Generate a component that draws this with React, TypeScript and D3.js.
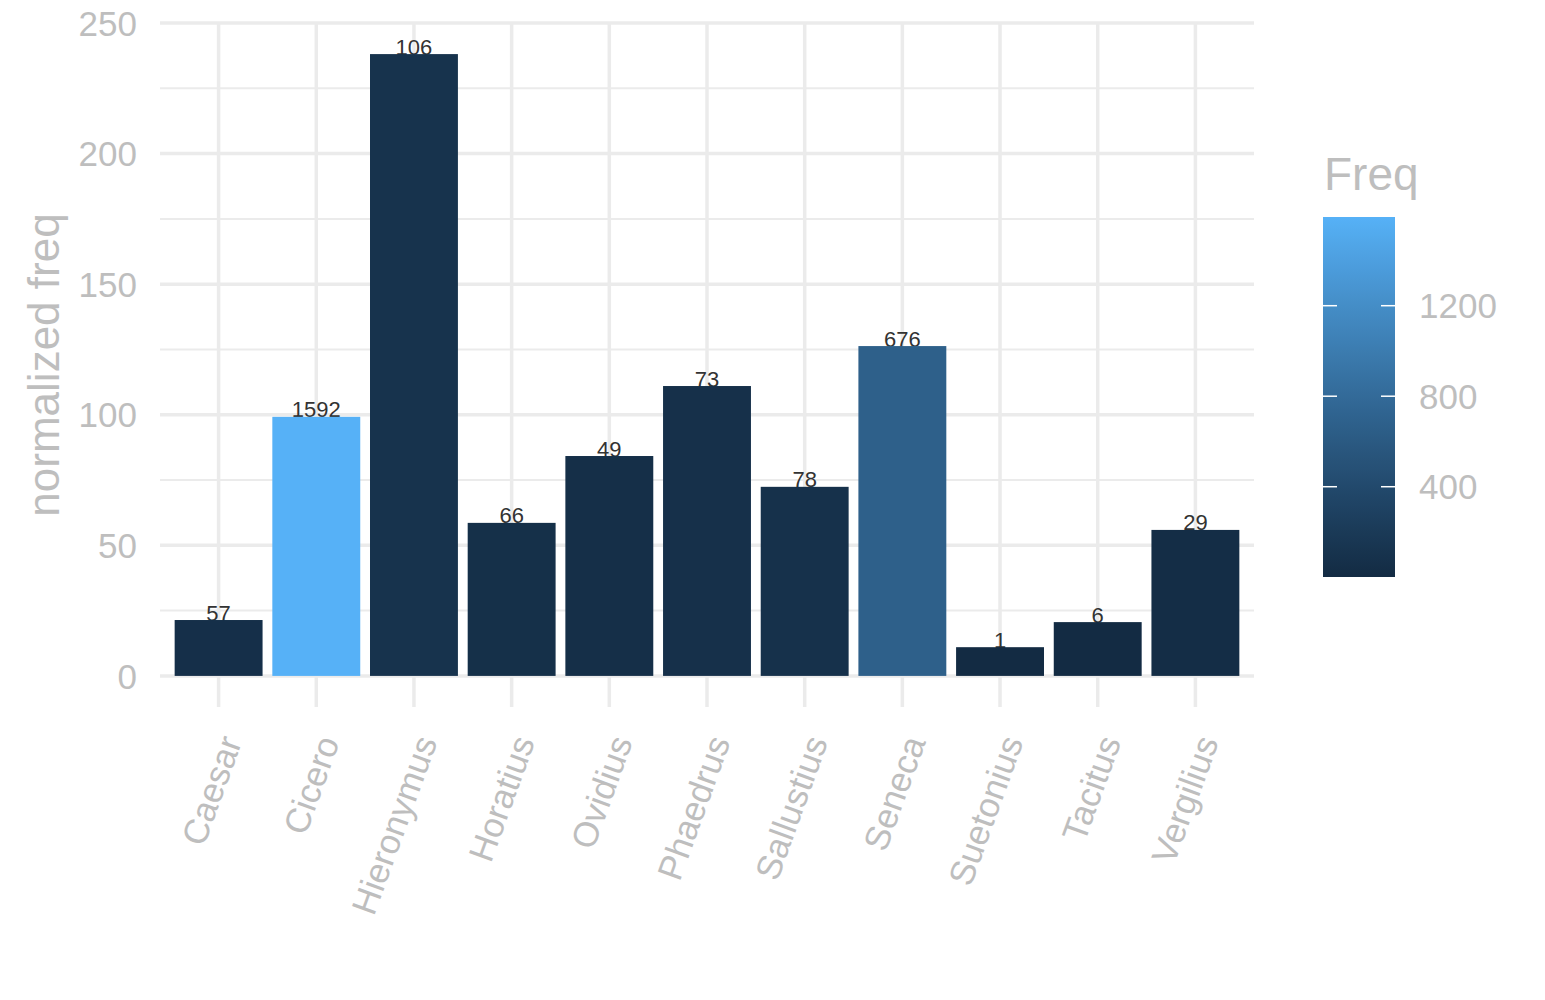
import React from 'react';
import * as d3 from 'd3';

const authors = ['Caesar', 'Cicero', 'Hieronymus', 'Horatius', 'Ovidius', 'Phaedrus', 'Sallustius', 'Seneca', 'Suetonius', 'Tacitus', 'Vergilius'];
const normFreq = [21.4, 99.2, 238.1, 58.6, 84.2, 111.0, 72.4, 126.3, 11.0, 20.6, 55.9];
const freq = [57, 1592, 106, 66, 49, 73, 78, 676, 1, 6, 29];
const yTicks = [0, 50, 100, 150, 200, 250];
const yMinor = [25, 75, 125, 175, 225];
const legendTicks = [400, 800, 1200];

const W = 1545;
const H = 1000;
const panel = { left: 160, right: 1254, top: 23, bottom: 707 };
const bar = { left: 1323, right: 1395, top: 217, bottom: 577 };
const font = '"Liberation Sans", Arial, Helvetica, sans-serif';
const gridColor = '#ebebeb';
const textGrey = '#bebebe';

export default function App() {
  const maxY = d3.max(normFreq) ?? 0;
  const y = d3.scaleLinear()
    .domain([-0.05 * maxY, maxY * 1.05])
    .range([panel.bottom, panel.top]);

  // discrete scale with ggplot's 0.6 expansion
  const x = d3.scaleLinear()
    .domain([0.4, authors.length + 0.6])
    .range([panel.left, panel.right]);
  const bw = x(1.9) - x(1);

  const fMin = d3.min(freq) ?? 0;
  const fMax = d3.max(freq) ?? 1;
  const color = d3.scaleLinear<string>()
    .domain([fMin, fMax])
    .range(['#132B43', '#56B1F7'])
    .interpolate(d3.interpolateLab);
  const legendY = d3.scaleLinear().domain([fMin, fMax]).range([bar.bottom, bar.top]);
  const stops = d3.range(0, 1.0001, 0.05);

  return (
    <svg width={W} height={H} style={{ position: 'absolute', left: 0, top: 0, fontFamily: font }}>
      <defs>
        <linearGradient id="freqGrad" x1="0" y1="1" x2="0" y2="0">
          {stops.map(t => (
            <stop key={t} offset={t} stopColor={color(fMin + t * (fMax - fMin))} />
          ))}
        </linearGradient>
      </defs>
      <rect width={W} height={H} fill="#fff" />

      {/* grid */}
      {yMinor.map(v => (
        <line key={'m' + v} x1={panel.left} x2={panel.right} y1={y(v)} y2={y(v)} stroke={gridColor} strokeWidth={2} />
      ))}
      {yTicks.map(v => (
        <line key={'M' + v} x1={panel.left} x2={panel.right} y1={y(v)} y2={y(v)} stroke={gridColor} strokeWidth={3.5} />
      ))}
      {authors.map((a, i) => (
        <line key={'v' + a} x1={x(i + 1)} x2={x(i + 1)} y1={panel.top} y2={panel.bottom} stroke={gridColor} strokeWidth={3.5} />
      ))}

      {/* value labels (drawn under the bars like the original) */}
      {authors.map((a, i) => (
        <text key={'l' + a} x={x(i + 1)} y={y(normFreq[i]) + 0.5} textAnchor="middle" fontSize={22} fill="#333">
          {freq[i]}
        </text>
      ))}

      {/* bars */}
      {authors.map((a, i) => (
        <rect key={'b' + a} x={x(i + 1) - bw / 2} width={bw} y={y(normFreq[i])} height={y(0) - y(normFreq[i])} fill={color(freq[i])} />
      ))}

      {/* y axis labels */}
      {yTicks.map(v => (
        <text key={'yt' + v} x={137} y={y(v)} dy="0.36em" textAnchor="end" fontSize={35} fill={textGrey}>
          {v}
        </text>
      ))}
      <text transform={`translate(59,${(panel.top + panel.bottom) / 2}) rotate(-90)`} textAnchor="middle" fontSize={44} fill={textGrey}>
        normalized freq
      </text>

      {/* x axis labels */}
      {authors.map((a, i) => (
        <text key={'xt' + a} transform={`translate(${x(i + 1)},733) rotate(-70)`} dy="0.72em" textAnchor="end" fontSize={35} fill={textGrey}>
          {a}
        </text>
      ))}

      {/* legend */}
      <text x={1324} y={190} fontSize={46} fill={textGrey}>Freq</text>
      <rect x={bar.left} y={bar.top} width={bar.right - bar.left} height={bar.bottom - bar.top} fill="url(#freqGrad)" />
      {legendTicks.map(v => (
        <g key={'lg' + v}>
          <line x1={bar.left} x2={bar.left + 14} y1={legendY(v)} y2={legendY(v)} stroke="#fff" strokeWidth={1.5} />
          <line x1={bar.right - 14} x2={bar.right} y1={legendY(v)} y2={legendY(v)} stroke="#fff" strokeWidth={1.5} />
          <text x={1419} y={legendY(v)} dy="0.36em" fontSize={35} fill={textGrey}>{v}</text>
        </g>
      ))}
    </svg>
  );
}
